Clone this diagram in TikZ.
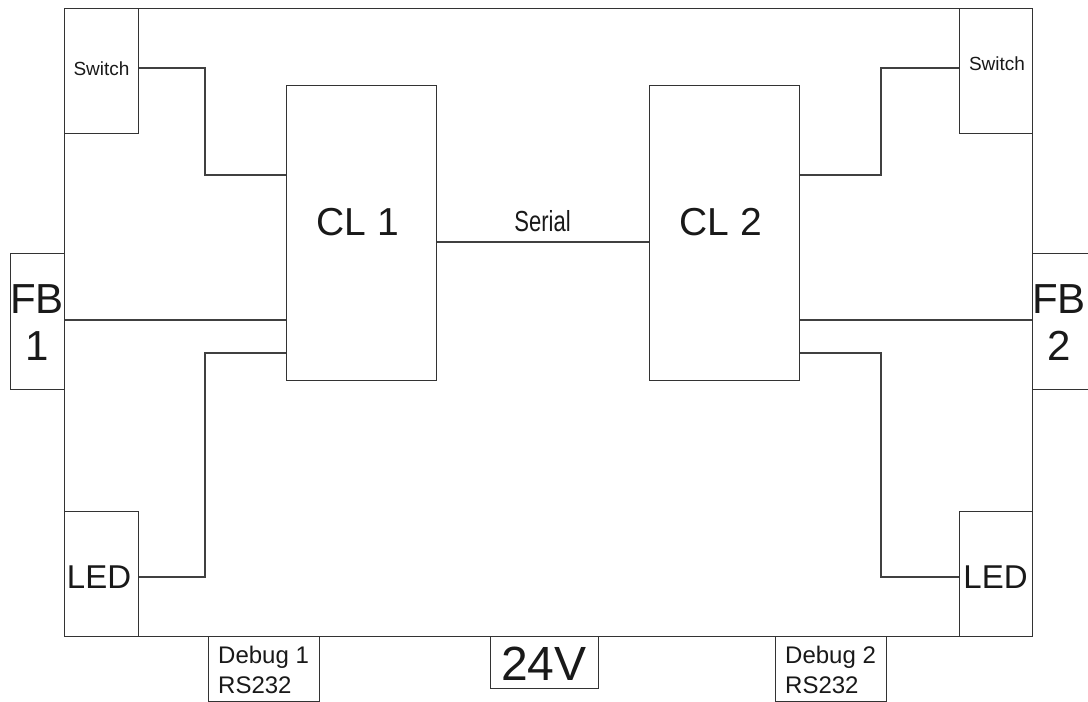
\documentclass[tikz,border=0pt]{standalone}
\usepackage{fontspec}
\setmainfont{Liberation Sans}
\begin{document}
\begin{tikzpicture}[x=1pt,y=-1pt,
  box/.style={draw=black!80,line width=1.3pt,inner sep=0pt,anchor=north west},
  wire/.style={draw=black!75,line width=1.1pt},
  txt/.style={inner sep=0pt,anchor=base,text=black!90}]
\useasboundingbox (0,0) rectangle (1088,702);
% main board
\node[box,minimum width=968pt,minimum height=628pt] (board) at (64,8) {};
% switches
\node[box,minimum width=74pt,minimum height=125pt] (sw1) at (64,8) {};
\node[box,minimum width=73pt,minimum height=125pt] (sw2) at (959,8) {};
\node[txt,font=\fontsize{19}{19}\selectfont] (sw1t) at (101.5,75) {Switch};
\node[txt,font=\fontsize{19}{19}\selectfont] (sw2t) at (997,70) {Switch};
% LEDs
\node[box,minimum width=74pt,minimum height=125pt] (led1) at (64,511) {};
\node[box,minimum width=73pt,minimum height=125pt] (led2) at (959,511) {};
\node[txt,font=\fontsize{33}{33}\selectfont] (led1t) at (99,588) {LED};
\node[txt,font=\fontsize{33}{33}\selectfont] (led2t) at (995.5,588) {LED};
% field buses
\node[box,minimum width=54pt,minimum height=136pt] (fb1) at (10,253) {};
\node[box,minimum width=60pt,minimum height=136pt] (fb2) at (1032,253) {};
\node[txt,font=\fontsize{42}{42}\selectfont] (fb1a) at (37,313) {FB};
\node[txt,font=\fontsize{42}{42}\selectfont] (fb1b) at (37,360) {1};
\node[txt,font=\fontsize{42}{42}\selectfont] (fb2a) at (1059,313) {FB};
\node[txt,font=\fontsize{42}{42}\selectfont] (fb2b) at (1059,360) {2};
% controllers
\node[box,minimum width=150pt,minimum height=295pt] (cl1) at (286,85) {};
\node[box,minimum width=150pt,minimum height=295pt] (cl2) at (649,85) {};
\node[txt,font=\fontsize{39}{39}\selectfont] (cl1t) at (358,235) {CL 1};
\node[txt,font=\fontsize{39}{39}\selectfont] (cl2t) at (721,235) {CL 2};
% bottom connectors
\node[box,minimum width=111pt,minimum height=65pt] (dbg1) at (208,636) {};
\node[box,minimum width=111pt,minimum height=65pt] (dbg2) at (775,636) {};
\node[box,minimum width=108pt,minimum height=52pt] (pwr) at (490,636) {};
\node[txt,anchor=base west,font=\fontsize{24}{24}\selectfont] (dbg1a) at (218,663) {Debug 1};
\node[txt,anchor=base west,font=\fontsize{24}{24}\selectfont] (dbg1b) at (218,693) {RS232};
\node[txt,anchor=base west,font=\fontsize{24}{24}\selectfont] (dbg2a) at (785,663) {Debug 2};
\node[txt,anchor=base west,font=\fontsize{24}{24}\selectfont] (dbg2b) at (785,693) {RS232};
\node[txt,font=\fontsize{48}{48}\selectfont] (pwrt) at (544,680) {24V};
% serial link
\draw[wire,line width=1.5pt] (cl1.east |- 0,242) -- (cl2.west |- 0,242);
\node[txt,font=\fontsize{29}{29}\selectfont] (ser) at (542.5,231.5) {\scalebox{0.76}[1]{Serial}};
% wiring left
\draw[wire] (sw1.east |- 0,68) -- (205,68) |- (cl1.west |- 0,175);
\draw[wire] (fb1.east |- 0,320) -- (cl1.west |- 0,320);
\draw[wire] (cl1.west |- 0,353) -- (205,353) |- (led1.east |- 0,577);
% wiring right
\draw[wire] (sw2.west |- 0,68) -- (881,68) |- (cl2.east |- 0,175);
\draw[wire] (fb2.west |- 0,320) -- (cl2.east |- 0,320);
\draw[wire] (cl2.east |- 0,353) -- (881,353) |- (led2.west |- 0,577);
\end{tikzpicture}
\end{document}
